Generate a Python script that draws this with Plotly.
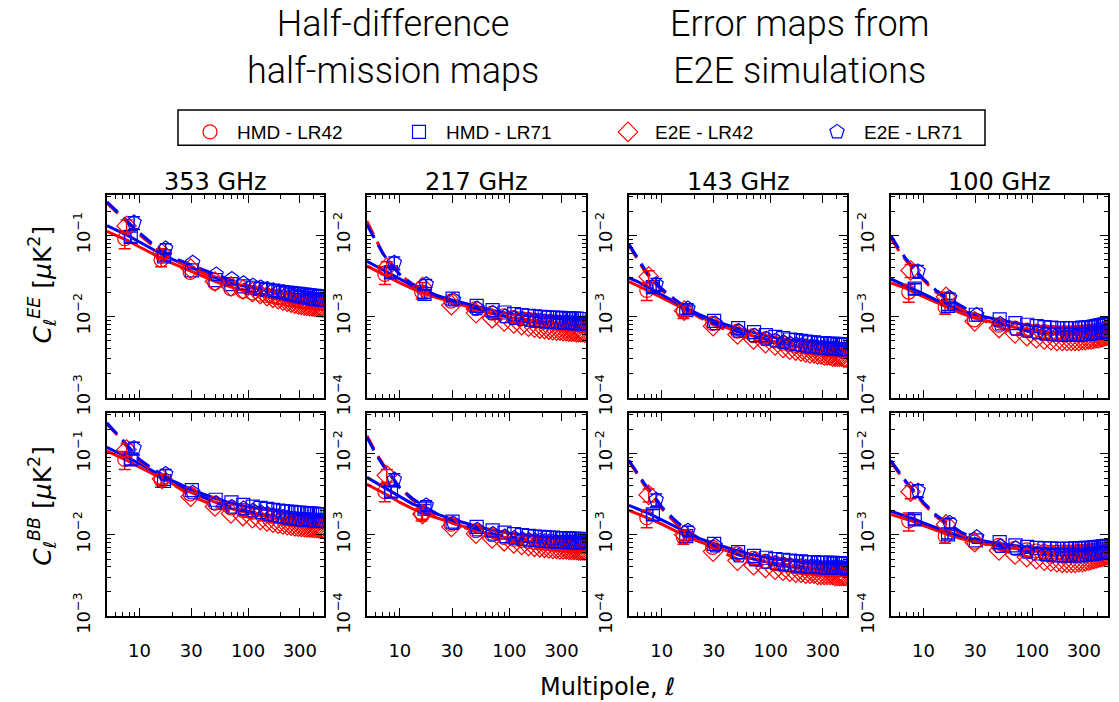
import plotly.graph_objects as go

# ---------------- data ----------------
ELL = [8, 16.5, 30, 50, 70, 90, 110, 130, 150, 170, 190, 210, 230, 250, 270, 290,
       310, 330, 350, 370, 390, 410, 430, 450, 470, 490]
LINE_ELL = [5, 6, 7, 8, 10, 13, 17, 22, 30, 50, 70, 100, 150, 200, 300, 500]
FREQS = ["353 GHz", "217 GHz", "143 GHz", "100 GHz"]
SERIES = ["HMD - LR42", "HMD - LR71", "E2E - LR42", "E2E - LR71"]

# ---- 353 GHz EE ----
EE353_HMD42 = [0.091, 0.050, 0.035, 0.026, 0.022, 0.0205, 0.0195, 0.0188, 0.0182, 0.0177, 0.0172, 0.0168, 0.0164,
               0.0161, 0.0158, 0.0156, 0.0154, 0.0152, 0.0150, 0.0149, 0.0148, 0.0147, 0.0146, 0.0145, 0.0145, 0.0144]
EE353_HMD71 = [0.096, 0.055, 0.037, 0.028, 0.025, 0.0235, 0.0226, 0.0219, 0.0213, 0.0208, 0.0204, 0.0200, 0.0197,
               0.0194, 0.0192, 0.0190, 0.0188, 0.0186, 0.0184, 0.0182, 0.0180, 0.0179, 0.0178, 0.0177, 0.0176, 0.0175]
EE353_E2E42 = [0.131, 0.060, 0.039, 0.027, 0.0235, 0.0215, 0.0200, 0.0188, 0.0178, 0.0170, 0.0163, 0.0157, 0.0152,
               0.0148, 0.0144, 0.0141, 0.0139, 0.0137, 0.0135, 0.0134, 0.0133, 0.0132, 0.0131, 0.0130, 0.0130, 0.0129]
EE353_E2E71 = [0.144, 0.069, 0.046, 0.033, 0.029, 0.0257, 0.0240, 0.0228, 0.0218, 0.0209, 0.0201, 0.0195, 0.0189,
               0.0184, 0.0180, 0.0176, 0.0173, 0.0170, 0.0168, 0.0166, 0.0164, 0.0162, 0.0161, 0.0160, 0.0159, 0.0158]
EE353_FIT_HMD42 = [0.112, 0.100, 0.092, 0.085, 0.072, 0.060, 0.050, 0.043, 0.036, 0.027, 0.023, 0.020, 0.0175, 0.0162, 0.0150, 0.0140]
EE353_FIT_HMD71 = [0.132, 0.118, 0.107, 0.098, 0.083, 0.068, 0.056, 0.048, 0.040, 0.030, 0.026, 0.023, 0.0208, 0.0196, 0.0185, 0.0175]
EE353_FIT_E2E42 = [0.25, 0.20, 0.165, 0.138, 0.102, 0.076, 0.059, 0.048, 0.040, 0.029, 0.024, 0.0205, 0.0175, 0.0158, 0.0142, 0.0130]
EE353_FIT_E2E71 = [0.26, 0.206, 0.170, 0.143, 0.107, 0.080, 0.062, 0.051, 0.043, 0.033, 0.028, 0.024, 0.0210, 0.0192, 0.0175, 0.0160]

# ---- 353 GHz BB ----
BB353_HMD42 = [0.085, 0.047, 0.032, 0.0245, 0.0215, 0.0200, 0.0190, 0.0182, 0.0176, 0.0171, 0.0167, 0.0163, 0.0160,
               0.0157, 0.0155, 0.0153, 0.0151, 0.0150, 0.0149, 0.0148, 0.0147, 0.0146, 0.0145, 0.0145, 0.0144, 0.0144]
BB353_HMD71 = [0.085, 0.046, 0.0354, 0.027, 0.025, 0.0233, 0.0222, 0.0214, 0.0208, 0.0203, 0.0199, 0.0196, 0.0193,
               0.0191, 0.0189, 0.0187, 0.0186, 0.0185, 0.0184, 0.0183, 0.0182, 0.0181, 0.0180, 0.0180, 0.0179, 0.0179]
BB353_E2E42 = [0.112, 0.049, 0.0295, 0.0223, 0.0183, 0.0170, 0.0160, 0.0152, 0.0146, 0.0141, 0.0137, 0.0134, 0.0131,
               0.0129, 0.0127, 0.0126, 0.0125, 0.0124, 0.0123, 0.0122, 0.0122, 0.0121, 0.0121, 0.0120, 0.0120, 0.0120]
BB353_E2E71 = [0.117, 0.056, 0.033, 0.0245, 0.022, 0.0210, 0.0198, 0.0188, 0.0180, 0.0174, 0.0169, 0.0165, 0.0161,
               0.0158, 0.0156, 0.0154, 0.0152, 0.0151, 0.0150, 0.0149, 0.0148, 0.0147, 0.0147, 0.0146, 0.0146, 0.0145]
BB353_FIT_HMD42 = [0.108, 0.097, 0.088, 0.080, 0.068, 0.057, 0.047, 0.040, 0.033, 0.025, 0.021, 0.0185, 0.0165, 0.0155, 0.0148, 0.0142]
BB353_FIT_HMD71 = [0.120, 0.107, 0.097, 0.088, 0.075, 0.062, 0.051, 0.044, 0.036, 0.028, 0.0245, 0.0220, 0.0202, 0.0192, 0.0184, 0.0178]
BB353_FIT_E2E42 = [0.23, 0.18, 0.14, 0.115, 0.082, 0.063, 0.050, 0.039, 0.030, 0.0225, 0.019, 0.0165, 0.0145, 0.0135, 0.0127, 0.0120]
BB353_FIT_E2E71 = [0.24, 0.185, 0.145, 0.12, 0.085, 0.066, 0.053, 0.043, 0.034, 0.025, 0.022, 0.0195, 0.0175, 0.0163, 0.0152, 0.0145]

# ---- 217 GHz EE ----
EE217_HMD42 = [0.0033, 0.0020, 0.00155, 0.00125, 0.00110, 0.00102, 0.00097, 0.00094, 0.00092, 0.00090, 0.00089, 0.00087, 0.00086,
               0.00085, 0.00084, 0.00083, 0.00083, 0.00082, 0.00081, 0.00081, 0.00080, 0.00080, 0.00079, 0.00079, 0.00078, 0.00078]
EE217_HMD71 = [0.0035, 0.0019, 0.00166, 0.00135, 0.00120, 0.00112, 0.00107, 0.00104, 0.00102, 0.00100, 0.00099, 0.00098, 0.00097,
               0.00097, 0.00096, 0.00096, 0.00095, 0.00095, 0.00095, 0.00094, 0.00094, 0.00094, 0.00093, 0.00093, 0.00093, 0.00093]
EE217_E2E42 = [0.0040, 0.0023, 0.00138, 0.00110, 0.00095, 0.00087, 0.00082, 0.00078, 0.00075, 0.00073, 0.00071, 0.00070, 0.00069,
               0.00068, 0.00067, 0.00067, 0.00066, 0.00066, 0.00065, 0.00065, 0.00065, 0.00064, 0.00064, 0.00064, 0.00064, 0.00063]
EE217_E2E71 = [0.0046, 0.0025, 0.00160, 0.00125, 0.00110, 0.00100, 0.00095, 0.00092, 0.00090, 0.00088, 0.00087, 0.00086, 0.00085,
               0.00085, 0.00084, 0.00084, 0.00083, 0.00083, 0.00083, 0.00082, 0.00082, 0.00082, 0.00082, 0.00081, 0.00081, 0.00081]
EE217_FIT_HMD42 = [0.0042, 0.0037, 0.0033, 0.0030, 0.0026, 0.0022, 0.0019, 0.0017, 0.00150, 0.00122, 0.00108, 0.00097, 0.00089, 0.00085, 0.00081, 0.00078]
EE217_FIT_HMD71 = [0.0048, 0.0042, 0.0038, 0.0034, 0.0029, 0.0024, 0.0021, 0.0018, 0.00160, 0.00133, 0.00119, 0.00108, 0.00101, 0.00098, 0.00095, 0.00093]
EE217_FIT_E2E42 = [0.0150, 0.0090, 0.0060, 0.0047, 0.0033, 0.0025, 0.0021, 0.0018, 0.00145, 0.00113, 0.00097, 0.00087, 0.00078, 0.00073, 0.00068, 0.00064]
EE217_FIT_E2E71 = [0.0135, 0.0085, 0.0060, 0.0046, 0.0033, 0.0025, 0.0021, 0.0018, 0.00155, 0.00125, 0.00110, 0.00098, 0.00090, 0.00086, 0.00083, 0.00081]

# ---- 217 GHz BB ----
BB217_HMD42 = [0.0034, 0.0018, 0.00135, 0.00112, 0.00100, 0.00093, 0.00088, 0.00085, 0.00083, 0.00081, 0.00080, 0.00079, 0.00078,
               0.00077, 0.00076, 0.00076, 0.00075, 0.00075, 0.00074, 0.00074, 0.00074, 0.00073, 0.00073, 0.00073, 0.00072, 0.00072]
BB217_HMD71 = [0.0034, 0.0021, 0.00145, 0.00125, 0.00113, 0.00106, 0.00102, 0.00099, 0.00097, 0.00095, 0.00094, 0.00093, 0.00092,
               0.00092, 0.00091, 0.00091, 0.00090, 0.00090, 0.00090, 0.00089, 0.00089, 0.00089, 0.00089, 0.00088, 0.00088, 0.00088]
BB217_E2E42 = [0.0054, 0.0018, 0.00125, 0.00103, 0.00090, 0.00083, 0.00078, 0.00075, 0.00073, 0.00071, 0.00070, 0.00069, 0.00068,
               0.00067, 0.00067, 0.00066, 0.00066, 0.00066, 0.00065, 0.00065, 0.00065, 0.00065, 0.00064, 0.00064, 0.00064, 0.00064]
BB217_E2E71 = [0.0048, 0.0023, 0.00138, 0.00115, 0.00102, 0.00095, 0.00091, 0.00088, 0.00086, 0.00085, 0.00084, 0.00083, 0.00082,
               0.00082, 0.00081, 0.00081, 0.00081, 0.00080, 0.00080, 0.00080, 0.00080, 0.00079, 0.00079, 0.00079, 0.00079, 0.00079]
BB217_FIT_HMD42 = [0.0042, 0.0037, 0.0033, 0.0030, 0.0025, 0.0021, 0.0018, 0.0016, 0.00140, 0.00113, 0.00100, 0.00090, 0.00083, 0.00079, 0.00076, 0.00073]
BB217_FIT_HMD71 = [0.0051, 0.0044, 0.0039, 0.0035, 0.0029, 0.0024, 0.0021, 0.0018, 0.00155, 0.00127, 0.00114, 0.00104, 0.00097, 0.00094, 0.00091, 0.00089]
BB217_FIT_E2E42 = [0.0166, 0.0105, 0.0075, 0.0058, 0.0038, 0.0027, 0.0021, 0.0017, 0.00140, 0.00108, 0.00093, 0.00082, 0.00074, 0.00070, 0.00067, 0.00064]
BB217_FIT_E2E71 = [0.0160, 0.0100, 0.0072, 0.0056, 0.0038, 0.0028, 0.0022, 0.0018, 0.00150, 0.00118, 0.00104, 0.00094, 0.00087, 0.00084, 0.00081, 0.00079]

# ---- 143 GHz EE ----
EE143_HMD42 = [0.0021, 0.00115, 0.00082, 0.00066, 0.00058, 0.00053, 0.00050, 0.00047, 0.00045, 0.00044, 0.00043, 0.00042, 0.00041,
               0.00041, 0.00040, 0.00040, 0.00039, 0.00039, 0.00039, 0.00038, 0.00038, 0.00038, 0.00038, 0.00037, 0.00037, 0.00037]
EE143_HMD71 = [0.0023, 0.0012, 0.00088, 0.00072, 0.00064, 0.00059, 0.00056, 0.00054, 0.00052, 0.00051, 0.00050, 0.00049, 0.00048,
               0.00048, 0.00047, 0.00047, 0.00047, 0.00046, 0.00046, 0.00046, 0.00046, 0.00045, 0.00045, 0.00045, 0.00045, 0.00045]
EE143_E2E42 = [0.0031, 0.00118, 0.00076, 0.00060, 0.00052, 0.00047, 0.00044, 0.00041, 0.00039, 0.00038, 0.00037, 0.00036, 0.00035,
               0.00035, 0.00034, 0.00034, 0.00033, 0.00033, 0.00033, 0.00032, 0.00032, 0.00032, 0.00032, 0.00032, 0.00031, 0.00031]
EE143_E2E71 = [0.0025, 0.00125, 0.00082, 0.00066, 0.00058, 0.00053, 0.00050, 0.00048, 0.00046, 0.00045, 0.00044, 0.00043, 0.00042,
               0.00042, 0.00041, 0.00041, 0.00041, 0.00040, 0.00040, 0.00040, 0.00040, 0.00040, 0.00039, 0.00039, 0.00039, 0.00039]
EE143_FIT_HMD42 = [0.0027, 0.0024, 0.0022, 0.0020, 0.00170, 0.00142, 0.00118, 0.00100, 0.00083, 0.00065, 0.00057, 0.00050, 0.00045, 0.00042, 0.00039, 0.00037]
EE143_FIT_HMD71 = [0.0030, 0.0027, 0.0024, 0.0022, 0.00185, 0.00152, 0.00125, 0.00106, 0.00089, 0.00071, 0.00063, 0.00056, 0.00051, 0.00049, 0.00047, 0.00045]
EE143_FIT_E2E42 = [0.0076, 0.0050, 0.0036, 0.0029, 0.0021, 0.00160, 0.00122, 0.00098, 0.00079, 0.00059, 0.00051, 0.00045, 0.00040, 0.00037, 0.00034, 0.00031]
EE143_FIT_E2E71 = [0.0078, 0.0052, 0.0038, 0.0030, 0.0022, 0.00165, 0.00127, 0.00102, 0.00083, 0.00065, 0.00057, 0.00051, 0.00047, 0.00044, 0.00041, 0.00039]

# ---- 143 GHz BB ----
BB143_HMD42 = [0.00162, 0.00093, 0.00070, 0.00058, 0.00051, 0.00047, 0.00045, 0.00043, 0.00042, 0.00041, 0.00040, 0.00039, 0.00039,
               0.00038, 0.00038, 0.00038, 0.00038, 0.00037, 0.00037, 0.00037, 0.00037, 0.00037, 0.00037, 0.00037, 0.00037, 0.00037]
BB143_HMD71 = [0.00178, 0.00096, 0.00077, 0.00061, 0.00055, 0.00052, 0.00050, 0.00049, 0.00048, 0.00047, 0.00047, 0.00046, 0.00046,
               0.00046, 0.00045, 0.00045, 0.00045, 0.00045, 0.00045, 0.00045, 0.00044, 0.00044, 0.00044, 0.00044, 0.00044, 0.00044]
BB143_E2E42 = [0.0031, 0.00100, 0.00062, 0.00048, 0.00042, 0.00039, 0.00037, 0.00036, 0.00035, 0.00034, 0.00034, 0.00033, 0.00033,
               0.00033, 0.00032, 0.00032, 0.00032, 0.00032, 0.00032, 0.00032, 0.00031, 0.00031, 0.00031, 0.00031, 0.00031, 0.00031]
BB143_E2E71 = [0.0027, 0.00112, 0.00073, 0.00055, 0.00049, 0.00046, 0.00044, 0.00043, 0.00042, 0.00041, 0.00041, 0.00040, 0.00040,
               0.00040, 0.00040, 0.00039, 0.00039, 0.00039, 0.00039, 0.00039, 0.00039, 0.00039, 0.00039, 0.00039, 0.00038, 0.00038]
BB143_FIT_HMD42 = [0.0020, 0.00182, 0.00168, 0.00155, 0.00135, 0.00113, 0.00095, 0.00082, 0.00071, 0.00057, 0.00050, 0.00045, 0.00041, 0.00039, 0.00038, 0.00037]
BB143_FIT_HMD71 = [0.0023, 0.0021, 0.00192, 0.00177, 0.00152, 0.00126, 0.00105, 0.00090, 0.00078, 0.00063, 0.00056, 0.00051, 0.00048, 0.00046, 0.00045, 0.00044]
BB143_FIT_E2E42 = [0.0081, 0.0055, 0.0040, 0.0032, 0.0021, 0.00145, 0.00105, 0.00082, 0.00067, 0.00050, 0.00043, 0.00038, 0.00035, 0.00033, 0.00032, 0.00031]
BB143_FIT_E2E71 = [0.0083, 0.0057, 0.0042, 0.0034, 0.0022, 0.00155, 0.00113, 0.00090, 0.00074, 0.00057, 0.00050, 0.00045, 0.00042, 0.00040, 0.00039, 0.00038]

# ---- 100 GHz EE ----
EE100_HMD42 = [0.0020, 0.0013, 0.00091, 0.00078, 0.00072, 0.00068, 0.00066, 0.00065, 0.00064, 0.00063, 0.00063, 0.00063, 0.00063,
               0.00063, 0.00063, 0.00064, 0.00064, 0.00065, 0.00065, 0.00066, 0.00067, 0.00068, 0.00069, 0.00070, 0.00071, 0.00072]
EE100_HMD71 = [0.0022, 0.00135, 0.00105, 0.00092, 0.00083, 0.00079, 0.00076, 0.00074, 0.00073, 0.00072, 0.00072, 0.00072, 0.00072,
               0.00072, 0.00072, 0.00073, 0.00073, 0.00074, 0.00074, 0.00075, 0.00076, 0.00077, 0.00078, 0.00079, 0.00080, 0.00081]
EE100_E2E42 = [0.0037, 0.00175, 0.00087, 0.00072, 0.00062, 0.00057, 0.00054, 0.00052, 0.00051, 0.00050, 0.00050, 0.00050, 0.00050,
               0.00050, 0.00050, 0.00051, 0.00051, 0.00052, 0.00052, 0.00053, 0.00054, 0.00054, 0.00055, 0.00056, 0.00057, 0.00058]
EE100_E2E71 = [0.0036, 0.0017, 0.00104, 0.00081, 0.00070, 0.00066, 0.00063, 0.00061, 0.00060, 0.00059, 0.00059, 0.00059, 0.00059,
               0.00059, 0.00059, 0.00059, 0.00060, 0.00060, 0.00061, 0.00061, 0.00062, 0.00062, 0.00063, 0.00063, 0.00064, 0.00065]
EE100_FIT_HMD42 = [0.0026, 0.0024, 0.0022, 0.0020, 0.00175, 0.00150, 0.00128, 0.00110, 0.00095, 0.00080, 0.00073, 0.00068, 0.00064, 0.00063, 0.00065, 0.00072]
EE100_FIT_HMD71 = [0.0029, 0.0026, 0.0024, 0.0022, 0.0019, 0.00160, 0.00138, 0.00120, 0.00104, 0.00090, 0.00083, 0.00077, 0.00073, 0.00072, 0.00073, 0.00080]
EE100_FIT_E2E42 = [0.0092, 0.0063, 0.0048, 0.0039, 0.0028, 0.0020, 0.00158, 0.00125, 0.00098, 0.00074, 0.00063, 0.00055, 0.00051, 0.00050, 0.00052, 0.00058]
EE100_FIT_E2E71 = [0.0100, 0.0066, 0.0050, 0.0040, 0.0029, 0.0021, 0.00165, 0.00135, 0.00108, 0.00084, 0.00072, 0.00064, 0.00060, 0.00059, 0.00060, 0.00065]

# ---- 100 GHz BB ----
BB100_HMD42 = [0.00148, 0.00096, 0.00081, 0.00074, 0.00068, 0.00065, 0.00063, 0.00062, 0.00061, 0.00061, 0.00061, 0.00061, 0.00061,
               0.00061, 0.00062, 0.00062, 0.00062, 0.00063, 0.00063, 0.00064, 0.00064, 0.00065, 0.00065, 0.00066, 0.00066, 0.00067]
BB100_HMD71 = [0.00155, 0.00101, 0.00085, 0.00081, 0.00074, 0.00071, 0.00069, 0.00068, 0.00068, 0.00067, 0.00067, 0.00067, 0.00067,
               0.00068, 0.00068, 0.00068, 0.00069, 0.00069, 0.00069, 0.00070, 0.00070, 0.00071, 0.00071, 0.00072, 0.00072, 0.00073]
BB100_E2E42 = [0.0034, 0.00134, 0.00081, 0.00064, 0.00057, 0.00053, 0.00050, 0.00048, 0.00047, 0.00046, 0.00045, 0.00045, 0.00045,
               0.00045, 0.00046, 0.00046, 0.00047, 0.00048, 0.00049, 0.00050, 0.00051, 0.00052, 0.00053, 0.00054, 0.00055, 0.00056]
BB100_E2E71 = [0.0035, 0.0014, 0.00093, 0.00072, 0.00068, 0.00061, 0.00058, 0.00057, 0.00056, 0.00055, 0.00055, 0.00055, 0.00055,
               0.00055, 0.00055, 0.00055, 0.00056, 0.00056, 0.00057, 0.00057, 0.00058, 0.00058, 0.00059, 0.00060, 0.00060, 0.00061]
BB100_FIT_HMD42 = [0.00178, 0.00165, 0.00155, 0.00146, 0.00130, 0.00114, 0.00100, 0.00090, 0.00081, 0.00072, 0.00067, 0.00063, 0.00061, 0.00061, 0.00062, 0.00067]
BB100_FIT_HMD71 = [0.00195, 0.00180, 0.00168, 0.00158, 0.00140, 0.00122, 0.00107, 0.00096, 0.00087, 0.00078, 0.00073, 0.00069, 0.00067, 0.00067, 0.00068, 0.00073]
BB100_FIT_E2E42 = [0.0078, 0.0056, 0.0043, 0.0035, 0.0024, 0.00168, 0.00128, 0.00102, 0.00084, 0.00066, 0.00058, 0.00052, 0.00047, 0.00046, 0.00048, 0.00055]
BB100_FIT_E2E71 = [0.0082, 0.0058, 0.0044, 0.0036, 0.0025, 0.00175, 0.00135, 0.00108, 0.00090, 0.00073, 0.00066, 0.00060, 0.00056, 0.00055, 0.00056, 0.00061]

# relative 1-sigma errors on the two lowest-ell bins, per series
REL_ERR = {"HMD - LR42": [0.25, 0.18], "HMD - LR71": [0.15, 0.12],
           "E2E - LR42": [0.18, 0.14], "E2E - LR71": [0.18, 0.14]}

PANELS = {
    ("EE", 0): [EE353_HMD42, EE353_HMD71, EE353_E2E42, EE353_E2E71],
    ("EE", 1): [EE217_HMD42, EE217_HMD71, EE217_E2E42, EE217_E2E71],
    ("EE", 2): [EE143_HMD42, EE143_HMD71, EE143_E2E42, EE143_E2E71],
    ("EE", 3): [EE100_HMD42, EE100_HMD71, EE100_E2E42, EE100_E2E71],
    ("BB", 0): [BB353_HMD42, BB353_HMD71, BB353_E2E42, BB353_E2E71],
    ("BB", 1): [BB217_HMD42, BB217_HMD71, BB217_E2E42, BB217_E2E71],
    ("BB", 2): [BB143_HMD42, BB143_HMD71, BB143_E2E42, BB143_E2E71],
    ("BB", 3): [BB100_HMD42, BB100_HMD71, BB100_E2E42, BB100_E2E71],
}
FITS = {
    ("EE", 0): [EE353_FIT_HMD42, EE353_FIT_HMD71, EE353_FIT_E2E42, EE353_FIT_E2E71],
    ("EE", 1): [EE217_FIT_HMD42, EE217_FIT_HMD71, EE217_FIT_E2E42, EE217_FIT_E2E71],
    ("EE", 2): [EE143_FIT_HMD42, EE143_FIT_HMD71, EE143_FIT_E2E42, EE143_FIT_E2E71],
    ("EE", 3): [EE100_FIT_HMD42, EE100_FIT_HMD71, EE100_FIT_E2E42, EE100_FIT_E2E71],
    ("BB", 0): [BB353_FIT_HMD42, BB353_FIT_HMD71, BB353_FIT_E2E42, BB353_FIT_E2E71],
    ("BB", 1): [BB217_FIT_HMD42, BB217_FIT_HMD71, BB217_FIT_E2E42, BB217_FIT_E2E71],
    ("BB", 2): [BB143_FIT_HMD42, BB143_FIT_HMD71, BB143_FIT_E2E42, BB143_FIT_E2E71],
    ("BB", 3): [BB100_FIT_HMD42, BB100_FIT_HMD71, BB100_FIT_E2E42, BB100_FIT_E2E71],
}

# ---------------- style ----------------
W, H = 1119, 702
RED, BLUE = "#ff0000", "#0000ff"
COLORS = [RED, BLUE, RED, BLUE]
SYMBOLS = ["circle-open", "square-open", "diamond-open", "pentagon-open"]
SIZES = [14, 13, 15, 15]
X_SHIFT = [-0.7, 0.3, -0.4, 0.9]
DASHES = ["solid", "solid", "15px,8px", "15px,8px"]
PANEL_X = [(107, 324), (367, 586), (629, 847), (891, 1108)]
ROW_Y = {"EE": (200, 408), "BB": (424, 632)}
TICK_FONT = dict(family="DejaVu Sans", size=18, color="black")

fig = go.Figure()

def minor_vals(lo, hi):
    vals = []
    for e in range(lo, hi + 1):
        for k in range(2, 10):
            vals.append(k * 10.0 ** e)
    return vals

idx = 0
for row in ["EE", "BB"]:
    for col in range(4):
        idx += 1
        xa = "x" if idx == 1 else f"x{idx}"
        ya = "y" if idx == 1 else f"y{idx}"
        fits = FITS[(row, col)]
        for s in range(4):
            fig.add_trace(go.Scatter(
                x=LINE_ELL, y=fits[s], mode="lines", xaxis=xa, yaxis=ya,
                line=dict(color=COLORS[s], width=3, dash=DASHES[s]),
                showlegend=False, hoverinfo="skip"))
        vals = PANELS[(row, col)]
        for s in range(4):
            xs = [l + X_SHIFT[s] for l in ELL]
            fig.add_trace(go.Scatter(
                x=xs, y=vals[s], mode="markers", xaxis=xa, yaxis=ya,
                name=SERIES[s], legendgroup=SERIES[s],
                showlegend=(idx == 1),
                marker=dict(symbol=SYMBOLS[s], size=SIZES[s],
                            line=dict(color=COLORS[s], width=1.2), color=COLORS[s])))
            errs = [vals[s][i] * REL_ERR[SERIES[s]][i] for i in range(2)]
            fig.add_trace(go.Scatter(
                x=xs[:2], y=vals[s][:2], mode="markers", xaxis=xa, yaxis=ya,
                marker=dict(size=1, color="rgba(0,0,0,0)"),
                error_y=dict(type="data", array=errs, color=COLORS[s], thickness=1.5, width=6),
                showlegend=False, hoverinfo="skip"))

        x0, x1 = PANEL_X[col]
        y0, y1 = ROW_Y[row]
        if col == 0:
            yr = [-3, -0.5]
            yt = [1e-3, 1e-2, 1e-1]
            ytt = ["10<sup>−3</sup>", "10<sup>−2</sup>", "10<sup>−1</sup>"]
            mv = minor_vals(-3, -1)
        else:
            yr = [-4, -1.5]
            yt = [1e-4, 1e-3, 1e-2]
            ytt = ["10<sup>−4</sup>", "10<sup>−3</sup>", "10<sup>−2</sup>"]
            mv = minor_vals(-4, -2)
        xkey = "xaxis" if idx == 1 else f"xaxis{idx}"
        ykey = "yaxis" if idx == 1 else f"yaxis{idx}"
        fig.update_layout(**{
            xkey: dict(
                type="log", range=[0.7, 2.7], domain=[x0 / W, x1 / W], anchor=ya,
                showline=True, linecolor="black", linewidth=2, mirror="allticks",
                ticks="inside", ticklen=8, tickwidth=1, tickcolor="black",
                tickvals=[10, 30, 100, 300], ticktext=["10", "30", "100", "300"],
                showticklabels=(row == "BB"), tickfont=TICK_FONT, ticklabelstandoff=18,
                minor=dict(ticks="inside", ticklen=4, tickcolor="black", tickwidth=1,
                           tickvals=[6, 7, 8, 9, 20, 40, 50, 60, 70, 80, 90, 200, 400, 500],
                           showgrid=False),
                showgrid=False, zeroline=False, fixedrange=True),
            ykey: dict(
                type="log", range=yr, domain=[1 - y1 / H, 1 - y0 / H], anchor=xa,
                showline=True, linecolor="black", linewidth=2, mirror="allticks",
                ticks="inside", ticklen=8, tickwidth=1, tickcolor="black",
                tickvals=yt, ticktext=ytt, tickangle=-90, tickfont=TICK_FONT,
                ticklabelstandoff=8,
                minor=dict(ticks="inside", ticklen=4, tickcolor="black", tickwidth=1,
                           tickvals=mv, showgrid=False),
                showgrid=False, zeroline=False, fixedrange=True),
        })

annotations = []
for col in range(4):
    x0, x1 = PANEL_X[col]
    annotations.append(dict(text=FREQS[col], x=(x0 + x1) / 2 / W, y=1 - 187 / H,
                            xref="paper", yref="paper", showarrow=False,
                            font=dict(family="DejaVu Sans", size=24, color="black"),
                            xanchor="center", yanchor="middle"))
TITLE_FONT = dict(family="Roboto", size=36, color="black", weight=300)
annotations.append(dict(text="Half-difference<br>half-mission maps", x=393 / W, y=1 - 49 / H,
                        xref="paper", yref="paper", showarrow=False, font=TITLE_FONT,
                        xanchor="center", yanchor="middle", align="center"))
annotations.append(dict(text="Error maps from<br>E2E simulations", x=800 / W, y=1 - 49 / H,
                        xref="paper", yref="paper", showarrow=False, font=TITLE_FONT,
                        xanchor="center", yanchor="middle", align="center"))
LAB_FONT = dict(family="DejaVu Sans", size=25, color="black")
annotations.append(dict(text="<i>C</i><sub><i>ℓ</i></sub><sup><i>EE</i></sup> [<i>μ</i>K<sup>2</sup>]",
                        x=42 / W, y=1 - 292 / H, xref="paper", yref="paper", showarrow=False,
                        textangle=-90, font=LAB_FONT, xanchor="center", yanchor="middle"))
annotations.append(dict(text="<i>C</i><sub><i>ℓ</i></sub><sup><i>BB</i></sup> [<i>μ</i>K<sup>2</sup>]",
                        x=42 / W, y=1 - 519 / H, xref="paper", yref="paper", showarrow=False,
                        textangle=-90, font=LAB_FONT, xanchor="center", yanchor="middle"))
annotations.append(dict(text="Multipole, <i>ℓ</i>", x=607 / W, y=1 - 705 / H,
                        xref="paper", yref="paper", showarrow=False,
                        font=dict(family="DejaVu Sans", size=24, color="black"),
                        xanchor="center", yanchor="middle"))

fig.update_layout(
    width=W, height=H, margin=dict(l=0, r=0, t=0, b=0),
    paper_bgcolor="white", plot_bgcolor="white",
    annotations=annotations,
    shapes=[dict(type="rect", xref="paper", yref="paper",
                 x0=178 / W, x1=985 / W, y0=1 - 149 / H, y1=1 - 113 / H,
                 line=dict(color="black", width=1.5), fillcolor="rgba(0,0,0,0)")],
    legend=dict(orientation="h", x=183 / W, y=1 - 116 / H, xanchor="left", yanchor="top",
                borderwidth=0, bgcolor="rgba(0,0,0,0)", itemwidth=44,
                font=dict(family="Liberation Sans", size=19, color="black"),
                entrywidth=150, entrywidthmode="pixels", itemclick=False),
    showlegend=True,
)

fig.write_html("out.html")
